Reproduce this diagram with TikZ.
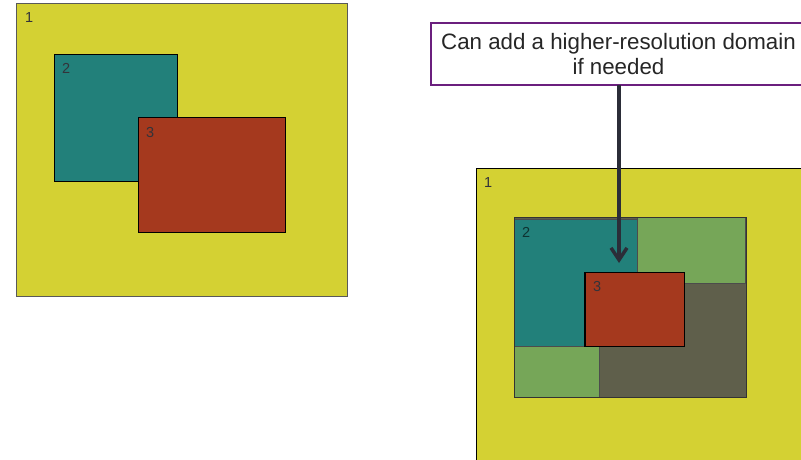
\documentclass[tikz,border=0pt]{standalone}
\usepackage{fontspec}
\setmainfont{Liberation Sans}
\usetikzlibrary{arrows.meta}
\definecolor{dyellow}{HTML}{D4D133}
\definecolor{dteal}{HTML}{22807A}
\definecolor{dred}{HTML}{A5391E}
\definecolor{dgreen}{HTML}{76A658}
\definecolor{ddark}{HTML}{5F5F4B}
\definecolor{dpurple}{HTML}{6B1F7E}
\definecolor{darrow}{HTML}{2B2D38}
\definecolor{dlabel}{HTML}{33333A}
\tikzset{
  box/.style={draw=black, line width=1pt, inner sep=0pt, outer sep=0pt, anchor=north west},
  num/.style={inner sep=0pt, anchor=base west, font=\fontsize{14.5}{16}\selectfont, text=dlabel},
  callout/.style={draw=dpurple, line width=2pt, fill=white, inner sep=0pt, outer sep=0pt, anchor=north west,
     align=center, font=\fontsize{22.3}{25}\selectfont, text=black!85},
  pointer/.style={draw=darrow, line width=3.5pt, -{Straight Barb[length=12pt,width=16pt]}}
}
\begin{document}
\begin{tikzpicture}[x=1pt,y=-1pt]
\useasboundingbox (0,0) rectangle (801,459);
\clip (0,0) rectangle (801,459);
\fill[white] (0,0) rectangle (801,459);
% left panel
\node[box, draw=black!65, fill=dyellow, minimum width=331pt, minimum height=293pt] (L1) at (16,3) {};
\node[num] (L1n) at (25,22) {1};
\node[box, fill=dteal, minimum width=123pt, minimum height=127pt] (L2) at (54.5,54) {};
\node[num] (L2n) at (62,73) {2};
\node[box, fill=dred, minimum width=147pt, minimum height=115pt] (L3) at (138.5,117.5) {};
\node[num] (L3n) at (146,137) {3};
% right panel
\node[box, fill=dyellow, minimum width=340pt, minimum height=300pt] (R1) at (476,168.5) {};
\node[num] (R1n) at (484,187) {1};
\node[box, fill=ddark, minimum width=231.5pt, minimum height=180pt] (Rbox) at (514.5,217.5) {};
\node[box, draw=black!70, line width=0.8pt, fill=dgreen, minimum width=108pt, minimum height=65.5pt] (Rg1) at (637.5,217.5) {};
\node[box, draw=black!70, line width=0.8pt, fill=dgreen, minimum width=84.5pt, minimum height=51pt] (Rg2) at (514.5,346.5) {};
\node[box, draw=black!70, line width=0.8pt, fill=dteal, minimum width=123pt, minimum height=127.5pt] (R2) at (514.5,219) {};
\node[num, text=black!60!dteal] (R2n) at (522,237.5) {2};
\node[box, line width=1.2pt, fill=dred, minimum width=99.5pt, minimum height=74pt] (R3) at (585,272.5) {};
\node[num] (R3n) at (593,291) {3};
\draw[line width=1pt, black!80] (Rbox.north west) rectangle (Rbox.south east);
% callout
\node[callout, minimum width=376pt, minimum height=62.5pt] (C) at (430.5,22.5) {Can add a higher-resolution domain\\if needed};
\coordinate (tip) at (619,263);
\draw[pointer] (C.south -| tip) -- (tip);
\end{tikzpicture}
\end{document}
